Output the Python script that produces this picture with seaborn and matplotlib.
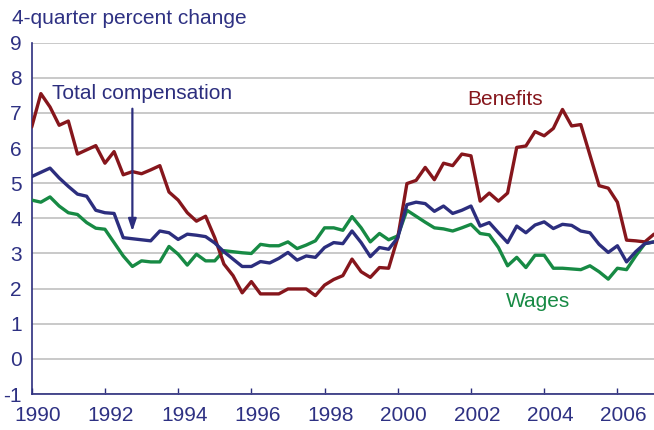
import matplotlib
matplotlib.use("Agg")
import matplotlib.pyplot as plt
import matplotlib.transforms as mtransforms
import numpy as np
import pandas as pd
import seaborn as sns

# ---- data (quarterly, 1990Q1 onward) ----
start_year = 1990
benefits = [6.6, 7.55, 7.17, 6.65, 6.77, 5.83, 5.95, 6.07, 5.57, 5.9,
            5.24, 5.33, 5.27, 5.38, 5.5, 4.75, 4.52, 4.16, 3.92, 4.06,
            3.45, 2.7, 2.37, 1.88, 2.2, 1.85, 1.85, 1.85, 1.99, 1.99,
            1.99, 1.8, 2.1, 2.26, 2.37, 2.84, 2.48, 2.32, 2.6, 2.58,
            3.45, 4.99, 5.08, 5.45, 5.1, 5.57, 5.5, 5.83, 5.78, 4.49,
            4.72, 4.49, 4.72, 6.02, 6.06, 6.47, 6.35, 6.56, 7.1, 6.63,
            6.67, 5.8, 4.93, 4.86, 4.46, 3.38, 3.36, 3.33, 3.55]
total_comp = [5.19, 5.31, 5.43, 5.15, 4.91, 4.69, 4.63, 4.23, 4.16, 4.14,
              3.45, 3.42, 3.39, 3.36, 3.64, 3.59, 3.4, 3.55, 3.52, 3.48,
              3.3, 3.05, 2.84, 2.63, 2.63, 2.77, 2.73, 2.86, 3.03, 2.81,
              2.93, 2.89, 3.17, 3.31, 3.28, 3.64, 3.31, 2.91, 3.17, 3.12,
              3.45, 4.39, 4.46, 4.42, 4.2, 4.35, 4.14, 4.23, 4.35, 3.78,
              3.88, 3.59, 3.31, 3.78, 3.59, 3.81, 3.9, 3.71, 3.83, 3.8,
              3.64, 3.59, 3.26, 3.03, 3.22, 2.76, 3.05, 3.28, 3.33]
wages = [4.52, 4.46, 4.61, 4.35, 4.16, 4.11, 3.88, 3.72, 3.69, 3.31,
         2.93, 2.63, 2.79, 2.76, 2.76, 3.2, 2.98, 2.67, 2.98, 2.79,
         2.79, 3.08, 3.05, 3.02, 3.0, 3.26, 3.22, 3.22, 3.33, 3.14,
         3.24, 3.36, 3.73, 3.73, 3.66, 4.05, 3.73, 3.33, 3.57, 3.39,
         3.5, 4.23, 4.06, 3.89, 3.73, 3.7, 3.64, 3.73, 3.83, 3.57,
         3.53, 3.17, 2.65, 2.89, 2.6, 2.95, 2.95, 2.58, 2.58, 2.56,
         2.54, 2.65, 2.48, 2.27, 2.58, 2.54, 2.93, 3.28, 3.33]
series_names = ["Total compensation", "Benefits", "Wages"]
x_ticks = [1990, 1992, 1994, 1996, 1998, 2000, 2002, 2004, 2006]
y_ticks = [-1, 0, 1, 2, 3, 4, 5, 6, 7, 8, 9]
y_title = "4-quarter percent change"

n = len(benefits)
years = start_year + np.arange(n) / 4.0
df = pd.DataFrame({
    "year": np.concatenate([years, years, years]),
    "value": np.concatenate([total_comp, benefits, wages]),
    "series": np.repeat(series_names, n),
})

NAVY = "#2c2e7e"
RED = "#86161c"
GREEN = "#178a44"
TEXT = "#2e3183"
GRID = "#c9c9c9"

sns.set_theme(style="white")
plt.rcParams["font.family"] = ["Liberation Sans", "DejaVu Sans"]
plt.rcParams["axes.unicode_minus"] = False

fig = plt.figure(figsize=(6.54, 4.30), dpi=100)
ax = fig.add_axes([0.0485, 0.0837, 0.9515, 0.817])

sns.lineplot(data=df, x="year", y="value", hue="series",
             palette={"Total compensation": NAVY, "Benefits": RED, "Wages": GREEN},
             hue_order=["Wages", "Benefits", "Total compensation"],
             linewidth=2.4, legend=False, ax=ax, zorder=3)

ax.set_xlim(1990, 2007)
ax.set_ylim(-1, 9)
ax.set_xticks(x_ticks)
ax.set_yticks(y_ticks)
ax.set_xlabel("")
ax.set_ylabel("")

ax.yaxis.grid(True, color=GRID, linewidth=1.4, zorder=0)
ax.xaxis.grid(False)
ax.set_axisbelow(True)
for s in ["top", "right"]:
    ax.spines[s].set_visible(False)
for s in ["left", "bottom"]:
    ax.spines[s].set_color(NAVY)
    ax.spines[s].set_linewidth(1.2)

ax.tick_params(axis="x", direction="in", length=4, width=1, color=NAVY,
               labelsize=15, labelcolor=TEXT, pad=8.5, bottom=True)
ax.tick_params(axis="y", length=0, labelsize=15, labelcolor=TEXT, pad=7)
offset = mtransforms.ScaledTranslation(6 / 100, 0, fig.dpi_scale_trans)
for lbl in ax.get_xticklabels():
    lbl.set_transform(lbl.get_transform() + offset)

fig.text(12 / 654, 1 - 19 / 430, y_title, fontsize=15, color=TEXT,
         ha="left", va="center")

ax.text(1990.55, 7.56, "Total compensation", fontsize=15, color=NAVY,
        ha="left", va="center")
ax.annotate("", xy=(1992.75, 3.55), xytext=(1992.75, 7.2),
            arrowprops=dict(arrowstyle="-|>,head_length=0.6,head_width=0.2",
                            color=NAVY, lw=1.6))
ax.text(2002.93, 7.37, "Benefits", fontsize=15, color=RED,
        ha="center", va="center")
ax.text(2003.83, 1.62, "Wages", fontsize=15, color=GREEN,
        ha="center", va="center")

fig.savefig("out.png", dpi=100)
